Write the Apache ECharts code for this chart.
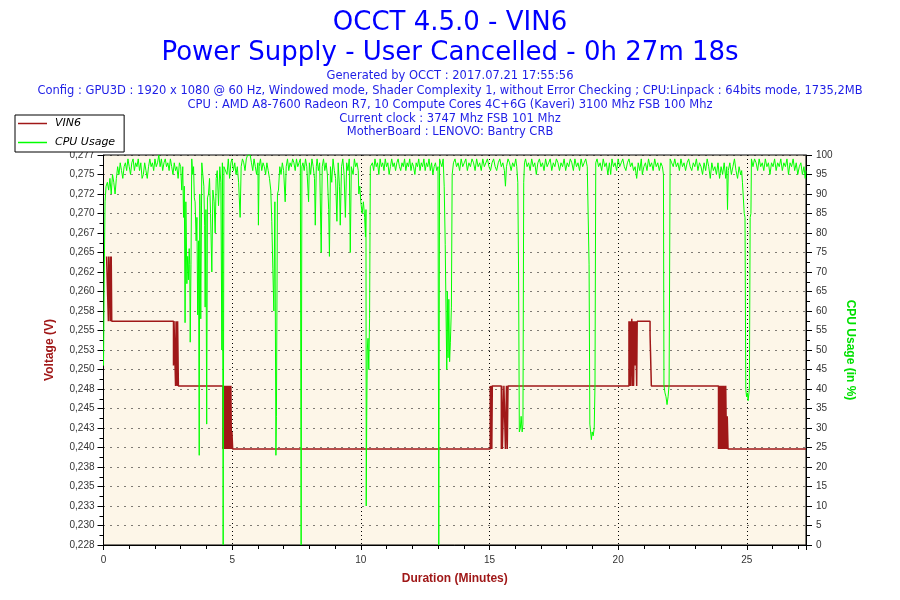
<!DOCTYPE html>
<html>
<head>
<meta charset="utf-8">
<script src="https://cdn.jsdelivr.net/npm/echarts@6/dist/echarts.min.js"></script>
<style>
html,body{margin:0;padding:0;background:#fff;}
#chart{width:900px;height:600px;}
</style>
</head>
<body>
<div id="chart"></div>
<script>
// ---- Data ----
var titleLines = ['OCCT 4.5.0 - VIN6', 'Power Supply - User Cancelled - 0h 27m 18s'];
var infoLines = [
  'Generated by OCCT : 2017.07.21 17:55:56',
  'Config : GPU3D : 1920 x 1080 @ 60 Hz, Windowed mode, Shader Complexity 1, without Error Checking ; CPU:Linpack : 64bits mode, 1735,2MB',
  'CPU : AMD A8-7600 Radeon R7, 10 Compute Cores 4C+6G (Kaveri) 3100 Mhz FSB 100 Mhz',
  'Current clock : 3747 Mhz FSB 101 Mhz',
  'MotherBoard : LENOVO: Bantry CRB'
];
var seriesNames = ['VIN6', 'CPU Usage'];
var voltTickLabels = ['0,228','0,230','0,233','0,235','0,238','0,240','0,243','0,245','0,248','0,250',
  '0,253','0,255','0,258','0,260','0,262','0,265','0,267','0,270','0,272','0,275','0,277'];
var cpuTickLabels = ['0','5','10','15','20','25','30','35','40','45','50','55','60','65','70','75','80','85','90','95','100'];
var minuteTickLabels = ['0','5','10','15','20','25'];

// VIN6 voltage (minutes, volts), step data
var vin6 = [
  [0.12,0.2645],[0.19,0.2562],[0.20,0.2645],[0.24,0.2600],[0.26,0.2562],[0.27,0.2645],[0.29,0.2562],[0.30,0.2645],[0.32,0.2562],
  [2.72,0.2505],[2.74,0.2562],[2.80,0.2479],[2.82,0.2562],[2.86,0.2479],[2.88,0.2562],[2.91,0.2479],
  [4.64,0.2398],[4.66,0.2479],[4.68,0.2398],[4.70,0.2479],[4.73,0.2398],[4.75,0.2479],[4.78,0.2398],[4.80,0.2479],
  [4.83,0.2398],[4.85,0.2479],[4.88,0.2398],[4.90,0.2479],[4.93,0.2398],[4.95,0.2479],[4.97,0.2398],[4.99,0.2420],[5.02,0.2398],
  [15.03,0.2479],[15.05,0.2398],[15.07,0.2479],[15.09,0.2398],[15.11,0.2479],
  [15.46,0.2398],[15.48,0.2479],[15.50,0.2398],[15.56,0.2479],[15.62,0.2398],[15.64,0.2438],[15.66,0.2479],[15.69,0.2398],[15.72,0.2479],
  [20.42,0.2562],[20.44,0.2479],[20.47,0.2562],[20.49,0.2479],[20.53,0.2565],[20.56,0.2479],[20.58,0.2562],[20.60,0.2479],
  [20.63,0.2562],[20.66,0.2505],[20.68,0.2562],[20.72,0.2479],[20.74,0.2562],
  [21.24,0.2545],[21.29,0.2479],
  [23.90,0.2398],[23.92,0.2479],[23.95,0.2398],[23.97,0.2479],[24.00,0.2398],[24.02,0.2479],[24.05,0.2398],[24.07,0.2479],
  [24.10,0.2398],[24.12,0.2479],[24.15,0.2398],[24.18,0.2479],[24.21,0.2398],[24.24,0.2440],[24.27,0.2398],[24.31,0.2398],
  [27.30,0.2398]
];

// CPU usage (minutes, percent)
var cpuUsage = [
  [0,46],[0.03,70],[0.06,88],[0.10,92],[0.15,93],[0.20,91],[0.25,94],[0.30,90],[0.35,95],[0.40,93],[0.45,90],[0.50,94],
  [0.55,97],[0.60,95],[0.65,98],[0.70,96],[0.75,94],[0.80,97],[0.85,98],[0.90,96],[0.95,99],[1.00,97],[1.05,95],[1.10,98],
  [1.15,99],[1.20,96],[1.25,98],[1.30,97],[1.35,99],[1.40,96],[1.45,98],[1.50,94],[1.55,95],[1.60,98],[1.65,96],[1.70,94],
  [1.75,97],[1.80,99],[1.85,97],[1.90,98],[1.95,96],[2.00,99],[2.05,97],[2.10,98],[2.15,100],[2.20,97],[2.25,99],[2.30,96],
  [2.35,98],[2.40,99],[2.45,97],[2.50,98],[2.55,96],[2.60,99],[2.65,97],[2.70,95],[2.75,98],[2.80,96],[2.85,97],[2.90,94],
  [2.95,98],[3.00,97],[3.04,91],
  [3.08,97],[3.11,84],[3.14,92],[3.17,57],[3.20,88],[3.22,79],[3.24,67],[3.27,74],[3.30,68],[3.33,76],[3.35,72],[3.37,52],
  [3.40,72],[3.43,99],[3.47,95],[3.50,97],[3.53,89],[3.56,88],[3.60,78],[3.63,84],[3.66,59],[3.69,78],[3.72,23],[3.74,90],
  [3.75,87],[3.78,58],[3.82,98],[3.86,95],[3.90,92],[3.93,82],[3.95,61],[3.98,86],[4.01,31],[4.04,89],[4.08,90],[4.12,94],
  [4.16,85],[4.21,70],[4.25,91],[4.30,88],[4.34,80],[4.38,94],[4.42,96],[4.47,87],[4.52,97],[4.56,93],[4.60,50],[4.62,98],
  [4.65,0],[4.68,97],
  [4.73,97],[4.80,95],[4.85,99],[4.90,94],[4.95,98],[4.99,99],[5.05,96],[5.10,98],[5.15,95],[5.20,97],[5.25,93],[5.31,84],
  [5.35,97],[5.40,99],[5.45,98],[5.50,96],[5.55,99],[5.60,100],[5.65,100],[5.70,100],[5.75,98],[5.80,96],[5.85,99],[5.90,97],
  [5.95,95],[6.00,98],[6.02,82],[6.05,97],[6.10,99],[6.15,96],[6.20,98],[6.25,97],[6.30,95],[6.35,98],[6.40,96],[6.45,94],
  [6.50,91],[6.54,83],[6.58,71],[6.62,60],[6.66,88],[6.70,23],[6.72,33],[6.76,90],[6.80,91],[6.85,97],[6.90,95],[6.95,98],
  [7.00,96],[7.06,88],[7.10,97],[7.15,99],[7.20,96],[7.25,98],[7.30,97],[7.35,99],[7.40,98],[7.45,96],[7.50,99],[7.55,97],
  [7.60,98],[7.65,99],[7.68,0],[7.71,97],
  [7.75,98],[7.80,96],[7.85,99],[7.90,97],[7.97,88],[8.00,98],[8.05,95],[8.10,99],[8.15,97],[8.20,94],[8.23,82],[8.27,97],
  [8.30,99],[8.35,96],[8.40,98],[8.46,75],[8.50,97],[8.55,99],[8.60,96],[8.65,98],[8.70,95],[8.75,86],[8.78,74],[8.82,97],
  [8.87,93],[8.92,99],[8.97,96],[9.02,94],[9.07,83],[9.12,98],[9.17,92],[9.20,82],[9.25,97],[9.30,99],[9.35,95],[9.40,84],
  [9.45,98],[9.50,96],[9.55,99],[9.59,75],[9.63,97],[9.70,95],[9.75,99],[9.80,97],[9.85,98],[9.90,96],[9.92,90],[9.96,92],
  [10.00,88],[10.05,85],[10.10,88],[10.15,84],[10.18,79],[10.20,86],[10.21,10],[10.23,33],[10.25,50],[10.28,53],[10.31,45],
  [10.34,58],[10.37,97],
  [10.45,98],[10.50,96],[10.55,99],[10.60,97],[10.65,98],[10.70,95],[10.75,99],[10.80,97],[10.85,98],[10.90,96],[10.95,99],
  [11.00,97],[11.05,98],[11.10,95],[11.15,97],[11.20,99],[11.25,97],[11.30,98],[11.35,96],[11.40,98],[11.45,99],[11.50,97],
  [11.55,96],[11.60,98],[11.65,97],[11.70,99],[11.75,96],[11.80,98],[11.85,97],[11.90,99],[11.95,96],[12.00,98],[12.05,97],
  [12.10,95],[12.15,98],[12.20,97],[12.25,99],[12.30,96],[12.35,98],[12.40,97],[12.45,99],[12.50,96],[12.55,98],[12.60,97],
  [12.65,99],[12.70,96],[12.75,98],[12.80,95],[12.85,97],[12.90,98],[12.95,96],[13.00,97],[13.03,0],[13.06,99],
  [13.10,98],[13.15,97],[13.20,99],[13.24,92],[13.28,77],[13.31,60],[13.34,45],[13.36,65],[13.39,48],[13.42,63],[13.45,47],
  [13.48,52],[13.52,61],[13.55,95],
  [13.60,98],[13.66,99],[13.72,97],[13.78,98],[13.84,96],[13.90,99],[13.96,97],[14.02,98],[14.08,99],[14.14,96],[14.20,98],
  [14.26,97],[14.32,99],[14.38,98],[14.44,96],[14.50,99],[14.56,97],[14.62,98],[14.68,96],[14.74,99],[14.80,97],[14.86,98],
  [14.92,99],[14.98,97],[15.04,96],[15.10,98],[15.16,99],[15.22,97],[15.28,96],[15.34,98],[15.40,99],[15.46,97],[15.52,98],
  [15.58,96],[15.62,92],[15.66,97],[15.72,99],[15.78,98],[15.84,96],[15.90,98],[15.96,97],[16.02,99],[16.06,97],
  [16.08,97],[16.10,93],[16.13,70],[16.16,29],[16.20,30],[16.23,33],[16.27,29],[16.30,31],[16.33,93],[16.36,98],
  [16.40,99],[16.46,97],[16.52,98],[16.58,96],[16.64,99],[16.70,97],[16.76,98],[16.82,95],[16.88,98],[16.94,99],[17.00,97],
  [17.06,98],[17.12,96],[17.18,99],[17.24,97],[17.30,98],[17.36,99],[17.42,96],[17.48,98],[17.54,97],[17.60,99],[17.66,98],
  [17.72,96],[17.78,98],[17.84,97],[17.90,99],[17.96,96],[18.02,98],[18.08,97],[18.14,99],[18.20,98],[18.26,96],[18.32,99],
  [18.38,97],[18.44,98],[18.50,96],[18.56,99],[18.62,97],[18.68,98],[18.74,99],[18.80,97],
  [18.84,97],[18.87,72],[18.90,31],[18.93,29],[18.96,27],[18.99,29],[19.03,28],[19.07,30],[19.10,41],[19.13,98],
  [19.18,99],[19.24,97],[19.30,98],[19.36,96],[19.42,99],[19.48,97],[19.54,98],[19.60,95],[19.66,98],[19.71,95],[19.76,99],
  [19.82,97],[19.88,98],[19.94,96],[20.00,99],[20.06,97],[20.12,98],[20.18,99],[20.24,97],[20.30,96],[20.36,98],[20.42,99],
  [20.48,97],[20.54,98],[20.60,96],[20.66,97],[20.72,94],[20.78,98],[20.84,96],[20.90,99],[20.94,95],[21.00,97],[21.06,98],
  [21.12,96],[21.18,99],[21.24,97],[21.30,98],[21.36,96],[21.42,99],[21.48,97],[21.54,98],[21.60,96],[21.66,98],[21.72,97],
  [21.76,95],[21.78,41],[21.82,39],[21.86,38],[21.90,36],[21.94,38],[21.98,41],[22.02,99],
  [22.08,98],[22.14,97],[22.20,99],[22.26,97],[22.32,98],[22.38,96],[22.44,99],[22.50,97],[22.56,98],[22.62,96],[22.68,98],
  [22.74,99],[22.80,97],[22.86,96],[22.92,98],[22.98,97],[23.04,99],[23.10,96],[23.16,98],[23.22,97],[23.28,95],[23.34,98],
  [23.40,96],[23.46,99],[23.52,97],[23.58,94],[23.64,98],[23.70,96],[23.76,97],[23.82,95],[23.88,98],[23.94,94],[24.00,97],
  [24.06,95],[24.12,98],[24.18,94],[24.22,97],[24.25,86],[24.28,96],[24.34,98],[24.40,95],[24.46,97],[24.52,99],[24.58,96],
  [24.64,94],[24.70,97],[24.76,95],[24.80,96],
  [24.83,93],[24.90,85],[24.93,84],[24.96,40],[24.99,38],[25.02,39],[25.05,37],[25.10,40],[25.13,84],[25.16,85],[25.18,99],
  [25.24,97],[25.30,99],[25.36,98],[25.42,96],[25.48,99],[25.54,97],[25.60,98],[25.66,96],[25.72,99],[25.78,97],[25.84,98],
  [25.90,95],[25.96,98],[26.02,97],[26.08,99],[26.14,96],[26.20,98],[26.26,97],[26.32,99],[26.38,96],[26.44,98],[26.50,97],
  [26.56,99],[26.62,95],[26.68,98],[26.74,97],[26.80,99],[26.86,96],[26.92,98],[26.98,95],[27.04,97],[27.10,98],[27.16,95],
  [27.22,97],[27.27,94],[27.30,96]
];

// ---- Chart ----
var chart = echarts.init(document.getElementById('chart'), null, {renderer: 'canvas'});
var titleFont = 'DejaVu Sans';
var titles = [
  {text: titleLines[0], left: 'center', top: 5, textStyle: {fontFamily: titleFont, fontSize: 26, fontWeight: 'normal', color: '#0000FF'}},
  {text: titleLines[1], left: 'center', top: 35, textStyle: {fontFamily: titleFont, fontSize: 26, fontWeight: 'normal', color: '#0000FF'}}
];
var infoTops = [70, 85, 99, 113, 126];
infoLines.forEach(function (t, i) {
  titles.push({text: t, left: 'center', top: infoTops[i], padding: 0,
    textStyle: {fontFamily: titleFont, fontSize: 11.5, fontWeight: 'normal', color: '#1E1EE6'}});
});

var option = {
  animation: false,
  backgroundColor: '#FFFFFF',
  title: titles,
  legend: {
    data: seriesNames,
    orient: 'vertical',
    left: 15,
    top: 115,
    backgroundColor: '#FFFFFF',
    borderColor: '#000000',
    borderWidth: 1,
    borderRadius: 0,
    padding: [3, 9, 4, 3],
    itemGap: 8,
    itemWidth: 29,
    itemHeight: 1.5,
    icon: 'rect',
    textStyle: {fontFamily: 'DejaVu Sans', fontSize: 11, fontStyle: 'italic', color: '#000', padding: [0, 0, 0, 3]}
  },
  grid: {
    left: 103.5, right: 94, top: 155, bottom: 55,
    show: true, backgroundColor: '#FDF6E8', borderColor: '#000', borderWidth: 1,
    containLabel: false
  },
  xAxis: {
    type: 'value', min: 0, max: 27.3, interval: 5,
    name: 'Duration (Minutes)', nameLocation: 'middle', nameGap: 28,
    nameTextStyle: {fontFamily: 'Liberation Sans', fontSize: 12, fontWeight: 'bold', color: '#A01818'},
    axisLine: {show: true, lineStyle: {color: '#000', width: 1}},
    axisTick: {show: true, inside: false, length: 5, lineStyle: {color: '#000'}},
    minorTick: {show: true, splitNumber: 5, length: 4, lineStyle: {color: '#000'}},
    axisLabel: {fontFamily: 'Liberation Sans', fontSize: 10, color: '#333', margin: 10,
      showMaxLabel: false,
      formatter: function (v) { var i = Math.round(v / 5); return minuteTickLabels[i] !== undefined ? minuteTickLabels[i] : ''; }},
    splitLine: {show: true, lineStyle: {color: '#000', type: [1, 3], width: 1}}
  },
  yAxis: [
    {
      type: 'value', min: 0.2275, max: 0.2775, interval: 0.0025, position: 'left',
      name: 'Voltage (V)', nameLocation: 'middle', nameGap: 48,
      nameTextStyle: {fontFamily: 'Liberation Sans', fontSize: 12, fontWeight: 'bold', color: '#A01818'},
      axisLine: {show: true, lineStyle: {color: '#000', width: 1}},
      axisTick: {show: true, length: 6, lineStyle: {color: '#000'}},
      minorTick: {show: true, splitNumber: 2, length: 4, lineStyle: {color: '#000'}},
      axisLabel: {fontFamily: 'Liberation Sans', fontSize: 10, color: '#333', margin: 9,
        formatter: function (v) { var i = Math.round((v - 0.2275) / 0.0025); return voltTickLabels[i] || ''; }},
      splitLine: {show: true, lineStyle: {color: '#000', type: [1, 6], width: 1}}
    },
    {
      type: 'value', min: 0, max: 100, interval: 5, position: 'right',
      name: 'CPU Usage (in %)', nameLocation: 'middle', nameGap: 38, nameRotate: -90,
      nameTextStyle: {fontFamily: 'Liberation Sans', fontSize: 12, fontWeight: 'bold', color: '#00E000'},
      axisLine: {show: true, lineStyle: {color: '#000', width: 1}},
      axisTick: {show: true, length: 6, lineStyle: {color: '#000'}},
      minorTick: {show: true, splitNumber: 2, length: 4, lineStyle: {color: '#000'}},
      axisLabel: {fontFamily: 'Liberation Sans', fontSize: 10, color: '#333', margin: 10,
        formatter: function (v) { var i = Math.round(v / 5); return cpuTickLabels[i] || ''; }},
      splitLine: {show: false}
    }
  ],
  series: [
    {
      name: seriesNames[0], type: 'line', yAxisIndex: 0, step: 'end', showSymbol: false, symbol: 'none',
      data: vin6, lineStyle: {color: '#A01818', width: 1.5}, itemStyle: {color: '#A01818'}, z: 2
    },
    {
      name: seriesNames[1], type: 'line', yAxisIndex: 1, showSymbol: false, symbol: 'none',
      data: cpuUsage, lineStyle: {color: '#00FF00', width: 1}, itemStyle: {color: '#00FF00'}, z: 3
    }
  ]
};
chart.setOption(option);
</script>
</body>
</html>
